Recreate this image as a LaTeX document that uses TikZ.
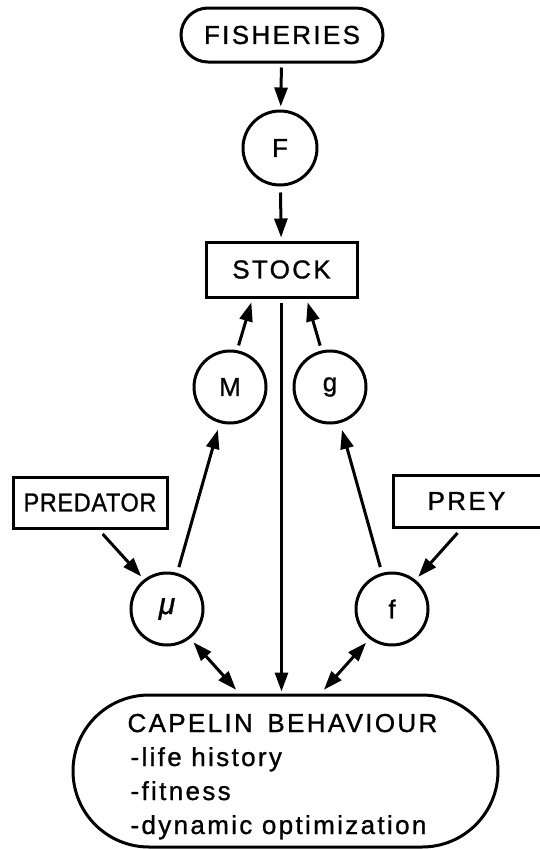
\documentclass[tikz,border=0pt]{standalone}
\usepackage{fontspec}
\setmainfont{Liberation Sans}[LetterSpace=9,FakeBold=1]
\usetikzlibrary{arrows.meta}
\begin{document}
\begin{tikzpicture}[x=1pt,y=-1pt,
  lw/.style={line width=3pt},
  txt/.style={font=\fontsize{26}{34}\selectfont},
  box/.style={draw,lw,rectangle,inner sep=0pt,txt},
  circ/.style={draw,lw,circle,inner sep=0pt,minimum size=72pt,txt},
  arr/.style={lw,-{Triangle[length=19pt,width=13pt]}},
  darr/.style={lw,{Triangle[length=19pt,width=13pt]}-{Triangle[length=19pt,width=13pt]}}]
\useasboundingbox (0,0) rectangle (539,849);
% nodes
\node[box,rounded corners=27pt,minimum width=202pt,minimum height=54pt] (fish) at (282,35) {FISHERIES};
\node[circ,minimum size=74pt] (F) at (280,148) {F};
\node[box,minimum width=151pt,minimum height=55pt] (stock) at (281.5,269.5) {STOCK};
\node[circ] (M) at (230,387) {M};
\node[circ] (g) at (330,387) {g};
\node[box,minimum width=154pt,minimum height=51pt] (pred) at (90,502.5) {\scalebox{0.9}[1]{\addfontfeature{LetterSpace=3}PREDATOR}};
\node[box,minimum width=164pt,minimum height=52pt,anchor=west] (prey) at (392,501) {PREY\kern18pt\relax};
\node[circ] (mu) at (167,609) {\fontsize{30}{34}\selectfont\itshape μ};
\node[circ] (f) at (392,609) {f};
\node[draw,lw,rectangle,rounded corners=76pt,minimum width=425pt,minimum height=152pt] (cap) at (285.5,771) {};
\node[txt,anchor=base west] (c1) at (124,732) {CAPELIN\hspace{5pt} BEHAVIOUR};
\node[txt,anchor=base west] (c2) at (127,766) {-life history};
\node[txt,anchor=base west] (c3) at (127,800) {-fitness};
\node[txt,anchor=base west] (c4) at (127,834) {-dynamic optimization};
% connectors
\draw[arr,shorten <=4pt,shorten >=3pt] (fish) -- (F);
\draw[arr,shorten <=6pt,shorten >=3pt] (F) -- (stock);
\draw[arr,shorten <=5pt,shorten >=4pt] (M.79) -- ([xshift=-29pt]stock.south);
\draw[arr,shorten <=5pt,shorten >=4pt] (g.103) -- ([xshift=25pt]stock.south);
\draw[arr,shorten <=4pt,shorten >=2pt] (stock.south) -- (stock.south |- cap.north);
\draw[arr,shorten <=6pt,shorten >=7pt] (mu) -- (M);
\draw[arr,shorten <=6pt,shorten >=7pt] (f) -- (g);
\draw[arr,shorten <=6pt,shorten >=4pt] ([xshift=8.6pt]pred.south) -- (mu.128);
\draw[arr,shorten <=6pt,shorten >=4pt] ([xshift=-14pt]prey.south) -- (f.51);
\draw[darr,shorten <=5pt,shorten >=5pt] (mu.-52) -- ([xshift=-46pt]cap.north);
\draw[darr,shorten <=5pt,shorten >=5pt] (f.-127) -- ([xshift=35pt]cap.north);
\end{tikzpicture}
\end{document}
